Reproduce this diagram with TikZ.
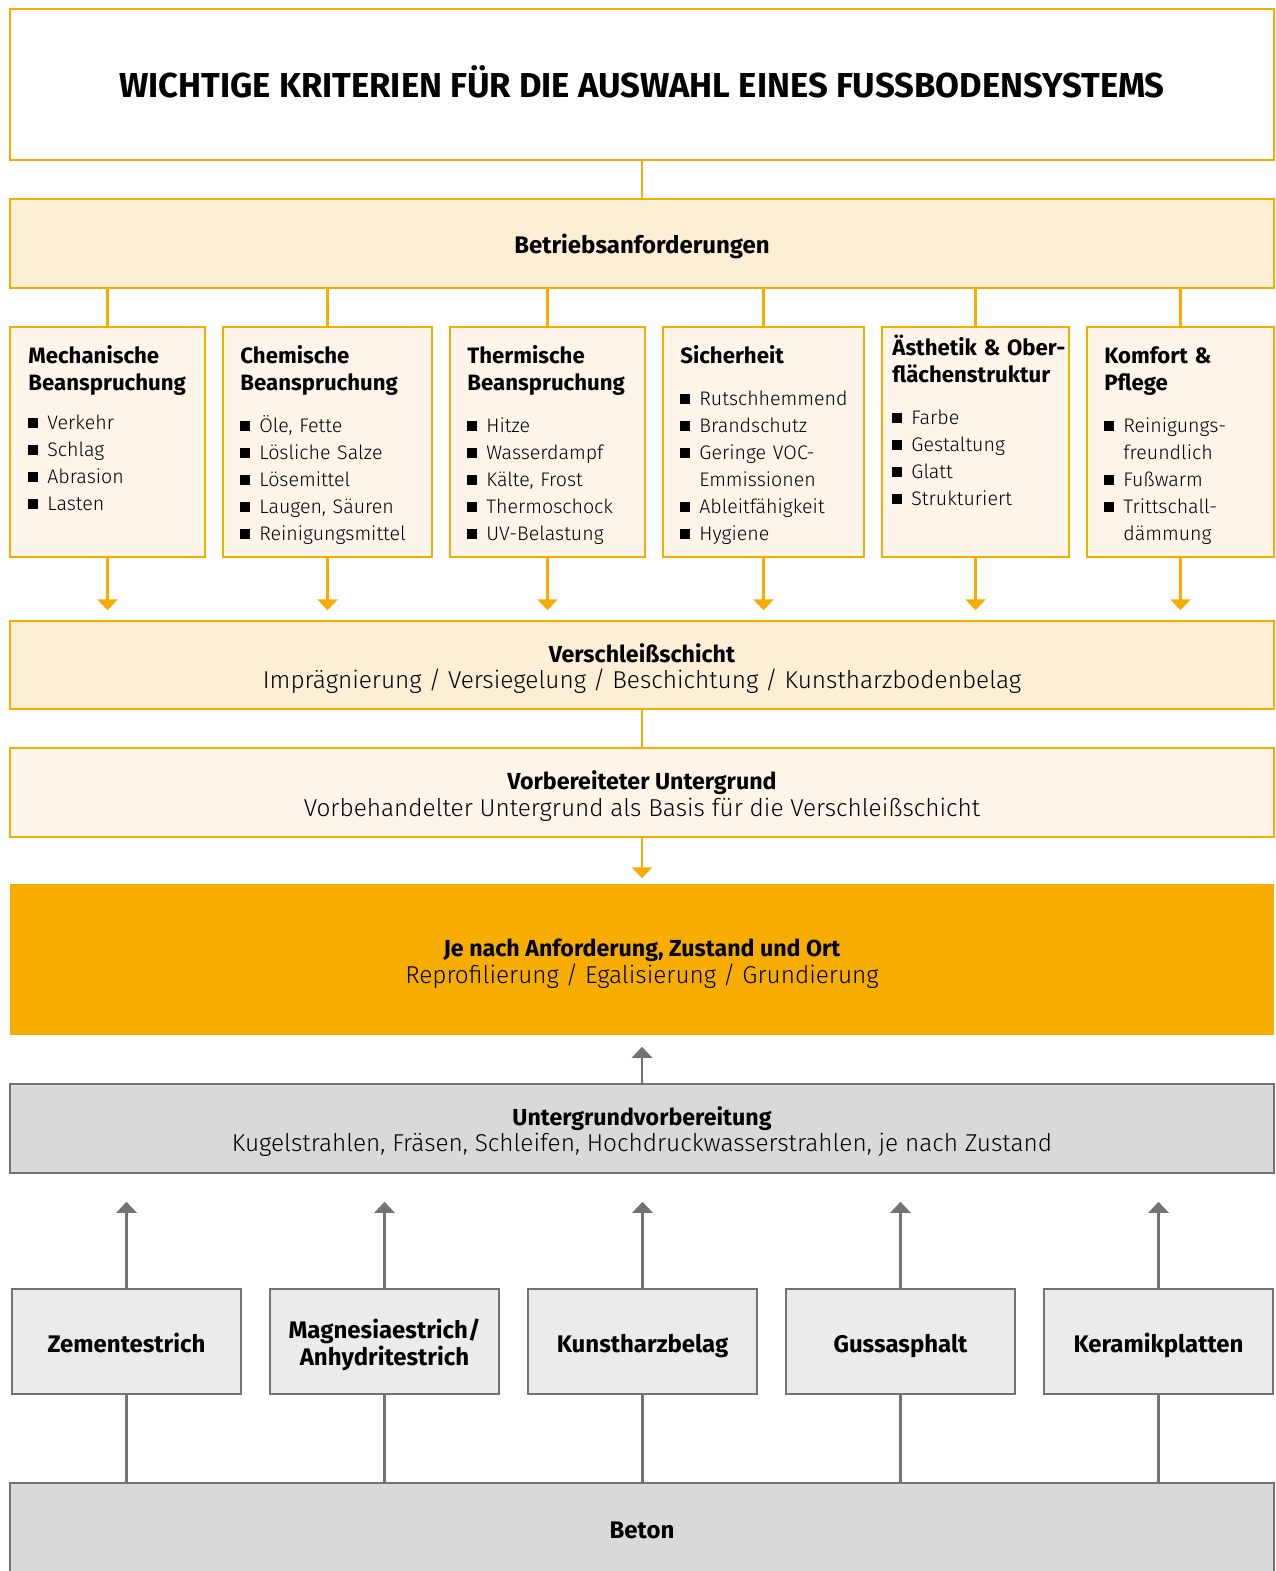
\documentclass[tikz,border=0pt]{standalone}
\usepackage{fontspec}
\setmainfont{Fira Sans Light}[BoldFont={Fira Sans Bold}]
\usetikzlibrary{arrows.meta}
\definecolor{orng}{HTML}{F7AD00}
\definecolor{lightor}{HTML}{FDEED6}
\definecolor{cream}{HTML}{FEF5EA}
\definecolor{gline}{HTML}{737373}
\definecolor{gfill}{HTML}{D9D9D9}
\definecolor{gfilltwo}{HTML}{EBEBEB}
\newcommand\colhead[2][7.5pt]{{\fontsize{11.1pt}{13.5pt}\selectfont\bfseries #2\par}\vspace{#1}}
\newcommand\itm[1]{{\fontsize{9.8pt}{13.5pt}\selectfont\hangindent=9.5pt\hangafter=1\noindent\makebox[9.5pt][l]{\raisebox{0.4pt}{\rule{5pt}{5pt}}}#1\par}}
\tikzset{
  x=0.5pt, y=-0.5pt,
  obox/.style={draw=orng, line width=1.25pt, inner sep=0pt, minimum width=632pt},
  colbox/.style={draw=orng, line width=1.25pt, fill=cream, inner sep=0pt, minimum height=115pt},
  coltxt/.style={anchor=base west, inner sep=0pt, align=left},
  gbox/.style={draw=gline, line width=1.25pt, inner sep=0pt},
  oline/.style={draw=orng, line width=1.25pt},
  gline/.style={draw=gline, line width=1.25pt},
  oarr/.style={draw=orng, line width=1.25pt, -{Triangle[width=10pt,length=5.5pt]}},
  garr/.style={draw=gline, line width=1.25pt, -{Triangle[width=10pt,length=5.5pt]}},
  smallbox/.style={gbox, fill=gfilltwo, minimum width=114.5pt, minimum height=52.5pt},
  boldtxt/.style={anchor=base, inner sep=0pt, font=\fontsize{12pt}{13.5pt}\selectfont\bfseries},
  headtxt/.style={anchor=base, inner sep=0pt, font=\fontsize{11.6pt}{13.5pt}\selectfont\bfseries},
  subtxt/.style={anchor=base, inner sep=0pt, font=\fontsize{12.2pt}{13.5pt}\selectfont},
}
\begin{document}
\begin{tikzpicture}
\useasboundingbox (0,0) rectangle (1276,1571);
% title
\node[obox, fill=white, minimum height=75.5pt] (title) at (642,84.5) {};
\node[anchor=base, inner sep=0pt, font=\fontsize{17.3pt}{19pt}\selectfont\bfseries] (titletxt) at (642,97.5) {WICHTIGE KRITERIEN FÜR DIE AUSWAHL EINES FUSSBODENSYSTEMS};
\node[obox, fill=lightor, minimum height=44.5pt] (betrieb) at (642,243.5) {};
\node[boldtxt] (betriebtxt) at (642,253) {Betriebsanforderungen};
\draw[oline] (title.south) -- (betrieb.north);
% columns
\node[colbox, minimum width=97.5pt] (c1) at (107.5,442) {};
\node[colbox, minimum width=104.5pt] (c2) at (327.5,442) {};
\node[colbox, minimum width=97.5pt] (c3) at (547.5,442) {};
\node[colbox, minimum width=100.5pt] (c4) at (763.5,442) {};
\node[colbox, minimum width=93.5pt] (c5) at (975.5,442) {};
\node[colbox, minimum width=93.5pt] (c6) at (1180.5,442) {};
\foreach \c in {c1,c2,c3,c4,c5,c6}{
  \draw[oline] (betrieb.south -| \c.north) -- (\c.north);
}
\node[coltxt, text width=86pt] (t1) at (28,363) {\colhead[6pt]{Mechanische\newline Beanspruchung}\itm{Verkehr}\itm{Schlag}\itm{Abrasion}\itm{Lasten}};
\node[coltxt, text width=94pt] (t2) at (240,363) {\colhead{Chemische\newline Beanspruchung}\itm{Öle, Fette}\itm{Lösliche Salze}\itm{Lösemittel}\itm{Laugen, Säuren}\itm{Reinigungsmittel}};
\node[coltxt, text width=88pt] (t3) at (467,363) {\colhead{Thermische\newline Beanspruchung}\itm{Hitze}\itm{Wasserdampf}\itm{Kälte, Frost}\itm{Thermoschock}\itm{UV-Belastung}};
\node[coltxt, text width=90pt] (t4) at (680,363) {\colhead[7.5pt]{Sicherheit}\itm{Rutschhemmend}\itm{Brandschutz}\itm{Geringe VOC-\newline Emmissionen}\itm{Ableitfähigkeit}\itm{Hygiene}};
\node[coltxt, text width=88pt] (t5) at (892,355) {\colhead{Ästhetik \& Ober-\newline flächenstruktur}\itm{Farbe}\itm{Gestaltung}\itm{Glatt}\itm{Strukturiert}};
\node[coltxt, text width=84pt] (t6) at (1104,363) {\colhead{Komfort \&\newline Pflege}\itm{Reinigungs-\newline freundlich}\itm{Fußwarm}\itm{Trittschall-\newline dämmung}};
% wear layer
\node[obox, fill=lightor, minimum height=44pt] (vers) at (642,665) {};
\node[headtxt] (verstxt) at (642,662) {Verschleißschicht};
\node[subtxt] (verssub) at (642,688.5) {Imprägnierung / Versiegelung / Beschichtung / Kunstharzbodenbelag};
\foreach \c/\n in {c1/a1,c2/a2,c3/a3,c4/a4,c5/a5,c6/a6}{
  \coordinate (\n) at ([yshift=-26pt]\c.south);
  \draw[oarr] (\c.south) -- (\n);
}
\node[obox, fill=cream, minimum height=44.5pt] (vorb) at (642,792.5) {};
\node[headtxt] (vorbtxt) at (642,789.5) {Vorbereiteter Untergrund};
\node[subtxt] (vorbsub) at (642,816) {Vorbehandelter Untergrund als Basis für die Verschleißschicht};
\draw[oline] (vers.south) -- (vorb.north);
\node[obox, draw=none, fill=orng, minimum height=75.5pt] (je) at (642,959.5) {};
\node[headtxt] (jetxt) at (642,956.5) {Je nach Anforderung, Zustand und Ort};
\node[subtxt] (jesub) at (642,983) {Reprofilierung / Egalisierung / Grundierung};
\coordinate (vtip) at ([yshift=-20pt]vorb.south);
\draw[oarr] (vorb.south) -- (vtip);
% preparation
\node[gbox, fill=gfill, minimum width=632pt, minimum height=44.5pt] (ug) at (642,1128.5) {};
\node[headtxt] (ugtxt) at (642,1125) {Untergrundvorbereitung};
\node[subtxt] (ugsub) at (642,1151.5) {Kugelstrahlen, Fräsen, Schleifen, Hochdruckwasserstrahlen, je nach Zustand};
\coordinate (utip) at ([yshift=18pt]ug.north);
\draw[garr] (ug.north) -- (utip);
% substrates
\node[smallbox] (s1) at (126.5,1341.5) {};
\node[smallbox] (s2) at (384.5,1341.5) {};
\node[smallbox] (s3) at (642.5,1341.5) {};
\node[smallbox] (s4) at (900.5,1341.5) {};
\node[smallbox] (s5) at (1158.5,1341.5) {};
\node[boldtxt] (s1t) at (126.5,1352) {Zementestrich};
\node[boldtxt] (s2t) at (384.5,1338) {Magnesiaestrich/};
\node[boldtxt] (s2u) at (384.5,1365) {Anhydritestrich};
\node[boldtxt] (s3t) at (642.5,1352) {Kunstharzbelag};
\node[boldtxt] (s4t) at (900.5,1352) {Gussasphalt};
\node[boldtxt] (s5t) at (1158.5,1352) {Keramikplatten};
\node[gbox, fill=gfill, minimum width=632pt, minimum height=46pt] (beton) at (642,1529) {};
\node[boldtxt] (betontxt) at (642,1538) {Beton};
\foreach \s/\n in {s1/b1,s2/b2,s3/b3,s4/b4,s5/b5}{
  \coordinate (\n) at ([yshift=43pt]\s.north);
  \draw[garr] (\s.north) -- (\n);
  \draw[gline] (\s.south) -- (beton.north -| \s.south);
}
\end{tikzpicture}
\end{document}
